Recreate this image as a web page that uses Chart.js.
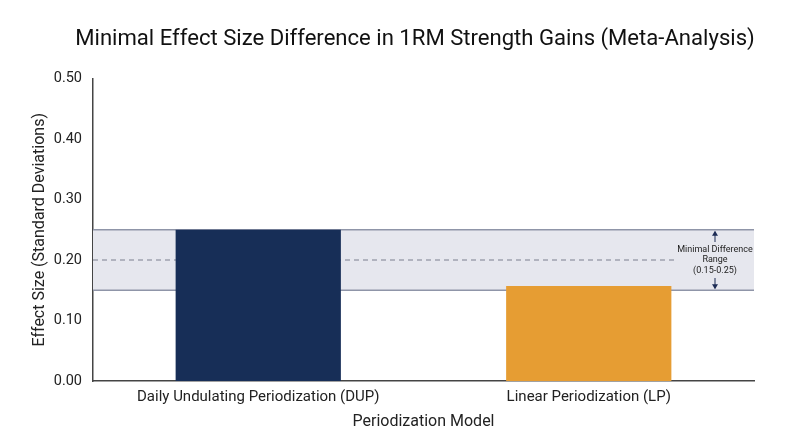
<!DOCTYPE html>
<html>
<head>
<meta charset="utf-8">
<script src="https://cdn.jsdelivr.net/npm/chart.js@4.4.1/dist/chart.umd.min.js"></script>
<style>
  html, body { margin: 0; padding: 0; background: #fff; }
  #wrap { width: 800px; height: 447px; }
</style>
</head>
<body>
<div id="wrap"><canvas id="myChart"></canvas></div>
<script>
var categories = ["Daily Undulating Periodization (DUP)", "Linear Periodization (LP)"];
var effectSizes = [0.25, 0.157];
var barColors = ["#172e57", "#e69d33"];
var yTickValues = [0.00, 0.10, 0.20, 0.30, 0.40, 0.50];
var rangeLow = 0.15;
var rangeHigh = 0.25;
var rangeMid = 0.20;
var rangeLabel = ["Minimal Difference", "Range", "(0.15-0.25)"];

// band + dashed midline behind bars, label and arrows on top
var rangeBand = {
    id: 'rangeBand',
    beforeDatasetsDraw: function (chart) {
        var ctx = chart.ctx, a = chart.chartArea, y = chart.scales.y;
        var yTop = y.getPixelForValue(rangeHigh);
        var yBot = y.getPixelForValue(rangeLow);
        var yMid = y.getPixelForValue(rangeMid);
        ctx.save();
        ctx.fillStyle = '#e6e7ee';
        ctx.fillRect(a.left, yTop, a.right - a.left, yBot - yTop);
        ctx.strokeStyle = '#8f95a8';
        ctx.lineWidth = 1.5;
        ctx.beginPath();
        ctx.moveTo(a.left, yTop); ctx.lineTo(a.right, yTop);
        ctx.moveTo(a.left, yBot); ctx.lineTo(a.right, yBot);
        ctx.stroke();
        ctx.setLineDash([5, 4]);
        ctx.lineWidth = 1;
        ctx.strokeStyle = '#7a7f8e';
        ctx.beginPath();
        ctx.moveTo(a.left, yMid); ctx.lineTo(a.right - 76, yMid);
        ctx.stroke();
        ctx.restore();
    },
    afterDatasetsDraw: function (chart) {
        var ctx = chart.ctx, a = chart.chartArea, y = chart.scales.y;
        var yTop = y.getPixelForValue(rangeHigh);
        var yBot = y.getPixelForValue(rangeLow);
        var yMid = y.getPixelForValue(rangeMid);
        var cx = a.right - 39;
        ctx.save();
        ctx.fillStyle = '#222';
        ctx.font = '9px Roboto';
        ctx.textAlign = 'center';
        ctx.textBaseline = 'middle';
        ctx.fillText(rangeLabel[0], cx, yMid - 10.5);
        ctx.fillText(rangeLabel[1], cx, yMid);
        ctx.fillText(rangeLabel[2], cx, yMid + 10.5);
        ctx.strokeStyle = '#1d2c55';
        ctx.fillStyle = '#1d2c55';
        ctx.lineWidth = 1;
        ctx.beginPath();
        ctx.moveTo(cx, yMid - 18); ctx.lineTo(cx, yTop + 2);
        ctx.moveTo(cx, yMid + 18); ctx.lineTo(cx, yBot - 2);
        ctx.stroke();
        ctx.beginPath();
        ctx.moveTo(cx, yTop + 1); ctx.lineTo(cx - 3, yTop + 6); ctx.lineTo(cx + 3, yTop + 6); ctx.closePath();
        ctx.moveTo(cx, yBot - 1); ctx.lineTo(cx - 3, yBot - 6); ctx.lineTo(cx + 3, yBot - 6); ctx.closePath();
        ctx.fill();
        ctx.restore();
    }
};

const ctx = document.getElementById('myChart');

new Chart(ctx, {
    type: 'bar',
    data: {
        labels: categories,
        datasets: [{
            label: 'Effect Size',
            data: effectSizes,
            backgroundColor: barColors,
            borderWidth: 0,
            categoryPercentage: 1.0,
            barPercentage: 0.5
        }]
    },
    options: {
        responsive: true,
        maintainAspectRatio: false,
        animation: false,
        layout: { padding: { left: 30, right: 0, top: 0, bottom: 0 } },
        plugins: {
            legend: { display: false },
            tooltip: { enabled: false },
            title: {
                display: true,
                text: 'Minimal Effect Size Difference in 1RM Strength Gains (Meta-Analysis)',
                color: '#111',
                font: { family: 'Roboto', size: 22.1, weight: 'normal' },
                padding: { top: 26, bottom: 26 }
            }
        },
        scales: {
            x: {
                afterFit: function (s) { s.height = 66; },
                grid: { display: false, drawTicks: false },
                border: { display: true, color: '#444', width: 1.5 },
                ticks: { color: '#222', font: { family: 'Roboto', size: 15 }, padding: 7 },
                title: {
                    display: true,
                    text: 'Periodization Model',
                    color: '#222',
                    font: { family: 'Roboto', size: 16 },
                    padding: { top: 4, bottom: 15 }
                }
            },
            y: {
                min: 0,
                max: 0.5,
                afterFit: function (s) { s.width = 63; },
                afterBuildTicks: function (s) {
                    s.ticks = yTickValues.map(function (v) { return { value: v }; });
                },
                grid: { display: false, drawTicks: false },
                border: { display: true, color: '#444', width: 1.5 },
                ticks: {
                    color: '#222',
                    font: { family: 'Roboto', size: 14.5 },
                    padding: 11,
                    callback: function (v) { return Number(v).toFixed(2); }
                },
                title: {
                    display: true,
                    text: 'Effect Size (Standard Deviations)',
                    color: '#222',
                    font: { family: 'Roboto', size: 16 },
                    padding: { top: 0, bottom: 0 }
                }
            },
            // empty right-hand axis that only keeps the right margin
            yRight: {
                type: 'linear',
                position: 'right',
                min: 0,
                max: 0.5,
                afterFit: function (s) { s.width = 46; },
                grid: { display: false, drawTicks: false },
                border: { display: false },
                ticks: { display: false }
            }
        }
    },
    plugins: [rangeBand]
});
</script>
</body>
</html>
